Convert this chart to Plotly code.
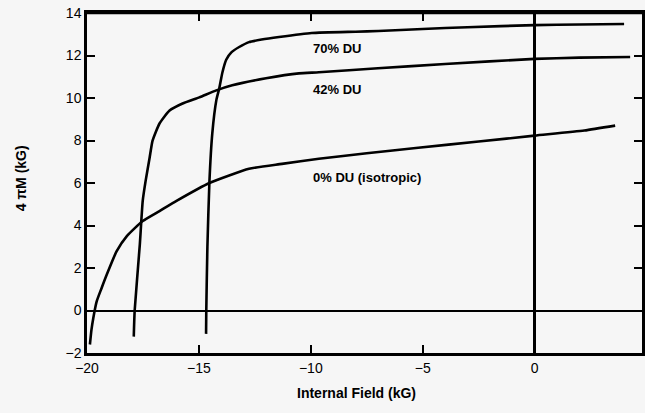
import plotly.graph_objects as go

# 70% DU
x70 = [-14.68, -14.67, -14.62, -14.53, -14.40, -14.22, -14.09, -13.95, -13.78, -13.55,
       -13.20, -12.76, -12.20, -11.42, -9.96, -8.00, -6.98, -5.00, -3.00, 0.00, 2.00, 4.00]
y70 = [-1.10, 0.00, 3.00, 6.05, 8.35, 9.90, 10.45, 11.20, 11.80, 12.15,
       12.40, 12.63, 12.75, 12.87, 13.06, 13.12, 13.15, 13.25, 13.33, 13.43, 13.46, 13.48]

# 42% DU
x42 = [-17.91, -17.87, -17.64, -17.51, -17.38, -17.20, -17.07, -16.76, -16.31, -15.73,
       -14.98, -14.22, -13.51, -12.00, -10.53, -9.64, -7.00, -4.00, 0.00, 2.00, 4.27]
y42 = [-1.23, 0.00, 3.10, 5.16, 6.10, 7.20, 7.99, 8.80, 9.41, 9.74,
       10.03, 10.36, 10.60, 10.93, 11.16, 11.21, 11.40, 11.60, 11.84, 11.90, 11.93]

# 0% DU (isotropic)
x0 = [-19.87, -19.80, -19.72, -19.57, -19.35, -19.12, -18.68, -18.22, -17.51, -16.76,
      -16.00, -14.53, -12.76, -11.29, -9.64, -7.50, -5.20, -2.50, 0.00, 2.22, 3.60]
y0 = [-1.60, -0.90, -0.36, 0.42, 1.05, 1.68, 2.78, 3.50, 4.21, 4.68,
      5.16, 6.00, 6.67, 6.90, 7.14, 7.40, 7.66, 7.95, 8.23, 8.47, 8.70]

series_names = ["70% DU", "42% DU", "0% DU (isotropic)"]
label_x = [-10.0, -10.0, -10.0]
label_y = [12.35, 10.38, 6.24]

FONT = dict(family="Liberation Sans, Arial, sans-serif", size=14, color="black")
BG = "#f6f6f6"

fig = go.Figure()
for xs, ys, nm in [(x70, y70, series_names[0]), (x42, y42, series_names[1]), (x0, y0, series_names[2])]:
    fig.add_trace(go.Scatter(x=xs, y=ys, mode="lines", name=nm,
                             line=dict(color="black", width=2.6, shape="spline", smoothing=0.5),
                             showlegend=False))

for nm, lx, ly in zip(series_names, label_x, label_y):
    fig.add_annotation(x=lx, y=ly, text="<b>" + nm + "</b>", showarrow=False,
                       xanchor="left", yanchor="middle", font=dict(FONT, size=13))

fig.add_annotation(x=-7.96, xref="x", y=-0.118, yref="paper", text="<b>Internal Field (kG)</b>",
                   showarrow=False, xanchor="center", yanchor="middle", font=FONT)
fig.add_annotation(x=-0.12, xref="paper", y=0.515, yref="paper", text="<b>4 πM (kG)</b>",
                   textangle=-90, showarrow=False, xanchor="center", yanchor="middle", font=FONT)

# top frame edge
fig.add_shape(type="line", xref="paper", yref="paper", x0=0, x1=1, y0=1, y1=1,
              line=dict(color="black", width=2.5))

fig.update_layout(
    width=645, height=413,
    margin=dict(l=87, r=0, t=13, b=60),
    paper_bgcolor=BG, plot_bgcolor=BG,
    font=FONT,
)
fig.update_xaxes(
    range=[-20, 4.8], showgrid=False,
    tickmode="linear", tick0=0, dtick=5,
    ticks="inside", ticklen=8, tickwidth=2, tickcolor="black",
    showline=True, linecolor="black", linewidth=2.5, mirror="ticks",
    zeroline=True, zerolinecolor="black", zerolinewidth=2.5,
)
fig.update_yaxes(
    range=[-2, 14], showgrid=False,
    tickmode="linear", tick0=0, dtick=2,
    ticks="inside", ticklen=8, tickwidth=2, tickcolor="black",
    showline=True, linecolor="black", linewidth=2.5, mirror="ticks",
    zeroline=True, zerolinecolor="black", zerolinewidth=1.6,
)

fig.write_html("out.html")
